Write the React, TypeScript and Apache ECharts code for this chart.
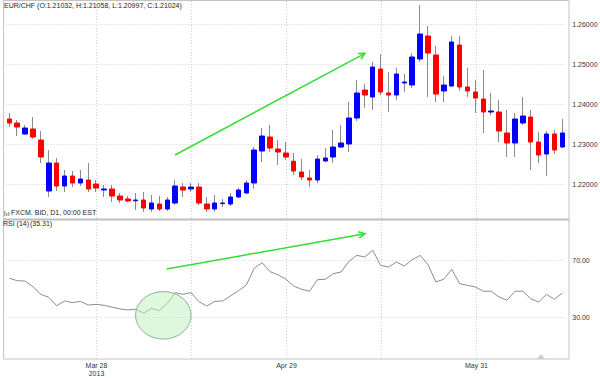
import { useEffect, useRef } from "react";
import * as echarts from "echarts";

// EUR/CHF daily candles
const opens = [
  1.23625, 1.23525, 1.2325, 1.23375, 1.231, 1.21825, 1.22525, 1.2195, 1.222, 1.22025,
  1.221, 1.22, 1.2185, 1.21875, 1.217, 1.21625, 1.2158, 1.216, 1.21375, 1.215,
  1.21375, 1.21525, 1.21925, 1.21875, 1.21925, 1.215, 1.21375, 1.21508, 1.215, 1.21675,
  1.21775, 1.22025, 1.22825, 1.23175, 1.22875, 1.22775, 1.2257, 1.223, 1.2215, 1.221,
  1.22575, 1.22675, 1.22925, 1.23, 1.2365, 1.2435, 1.24175, 1.24875, 1.24275, 1.24225,
  1.24525, 1.24475, 1.25125, 1.257, 1.25225, 1.24325, 1.2445, 1.25475, 1.24425, 1.243,
  1.24125, 1.238, 1.238, 1.23275, 1.23025, 1.23525, 1.23675, 1.2305, 1.2275, 1.2325,
  1.22925,
];
const closes = [
  1.23525, 1.23425, 1.234, 1.23175, 1.22675, 1.22525, 1.2195, 1.222, 1.22025, 1.22125,
  1.21875, 1.219, 1.21875, 1.217, 1.216, 1.21575, 1.216, 1.214, 1.21525, 1.21375,
  1.216, 1.2195, 1.2185, 1.21925, 1.21525, 1.21375, 1.21525, 1.21525, 1.21675, 1.2185,
  1.22025, 1.2285, 1.232, 1.229, 1.228, 1.22675, 1.22325, 1.22175, 1.221, 1.22625,
  1.2265, 1.22925, 1.23025, 1.2365, 1.24275, 1.24225, 1.24925, 1.243, 1.24225, 1.2475,
  1.2455, 1.25175, 1.2575, 1.25275, 1.2425, 1.24475, 1.2555, 1.24425, 1.24325, 1.2415,
  1.238, 1.23825, 1.23325, 1.23025, 1.23625, 1.237, 1.2305, 1.22725, 1.2325, 1.2285,
  1.23275,
];
const lows = [
  1.23425, 1.232, 1.23225, 1.23125, 1.22525, 1.21675, 1.21825, 1.218, 1.21925, 1.2195,
  1.218, 1.218, 1.21675, 1.2155, 1.21525, 1.2155, 1.2135, 1.213, 1.213, 1.21325,
  1.21325, 1.21475, 1.21675, 1.218, 1.21475, 1.213, 1.213, 1.21425, 1.2145, 1.2165,
  1.2175, 1.21875, 1.2255, 1.228, 1.22475, 1.226, 1.22225, 1.221, 1.21925, 1.22025,
  1.2255, 1.22525, 1.229, 1.228, 1.23575, 1.239, 1.2385, 1.24225, 1.238, 1.241,
  1.243, 1.244, 1.2505, 1.24175, 1.2405, 1.2405, 1.24425, 1.24325, 1.24175, 1.23775,
  1.23275, 1.23725, 1.2305, 1.22675, 1.22675, 1.23475, 1.2235, 1.22525, 1.222, 1.2275,
  1.229,
];
const highs = [
  1.23775, 1.236, 1.23475, 1.23675, 1.23325, 1.2285, 1.2265, 1.2235, 1.22325, 1.2235,
  1.22525, 1.221, 1.21975, 1.21975, 1.21775, 1.217, 1.21775, 1.218, 1.21725, 1.217,
  1.21675, 1.221, 1.22025, 1.22025, 1.22025, 1.21675, 1.21725, 1.21625, 1.21775, 1.219,
  1.221, 1.22925, 1.234, 1.23475, 1.231, 1.2305, 1.22775, 1.22625, 1.2235, 1.22725,
  1.229, 1.2335, 1.23475, 1.2405, 1.246, 1.245, 1.2505, 1.2525, 1.248, 1.249,
  1.2475, 1.25275, 1.26475, 1.2595, 1.2545, 1.247, 1.257, 1.257, 1.249, 1.246,
  1.2485, 1.24275, 1.241, 1.2385, 1.23775, 1.24175, 1.2385, 1.233, 1.23325, 1.2335,
  1.23625,
];
// RSI (14)
const rsi = [
  57.5, 55.8, 55.5, 51.5, 46, 44, 38, 41.4, 40.2, 41.1,
  38.5, 39, 38.3, 37, 35.7, 35, 35.5, 32.8, 36.2, 34.5,
  39.7, 47.3, 46.1, 47.3, 40.9, 37.8, 41.1, 41.4, 44.9, 48.7,
  52.7, 64.6, 68.6, 62.2, 60, 57, 52, 49.7, 48.3, 56.5,
  56.8, 60.8, 62, 69.6, 73.8, 72.6, 77.4, 66.7, 65.5, 69.1,
  66.2, 70.7, 73.8, 67.2, 54.9, 56.8, 63.9, 53.7, 52.5, 51.3,
  48.3, 48.3, 44.2, 41.9, 48.3, 48.3, 43, 40.7, 46.1, 42.6,
  47,
];
const dateTickLabels = ["", "Mar 28\n2013", "", "Apr 29", "", "May 31", ""];
const titleText = "EUR/CHF (O:1.21032, H:1.21058, L:1.20997, C:1.21024)";
const sourceText = "FXCM. BID, D1, 00:00 EST";
const rsiTitle = "RSI (14)";
const rsiValueText = "(35.31)";

const FONT = "'Liberation Sans', Arial, sans-serif";
const TXT = "#333";
const GRIDC = "#d2d2d2";
const GREEN = "#33dd33";

function arrow(x1: number, y1: number, x2: number, y2: number) {
  const ang = Math.atan2(y2 - y1, x2 - x1);
  const L = 7;
  const a = 0.45;
  const p1 = [x2 - L * Math.cos(ang - a), y2 - L * Math.sin(ang - a)];
  const p2 = [x2 - L * Math.cos(ang + a), y2 - L * Math.sin(ang + a)];
  return [
    { type: "line", z: 100, shape: { x1, y1, x2, y2 }, style: { stroke: GREEN, lineWidth: 1.5 } },
    { type: "polyline", z: 100, shape: { points: [p1, [x2, y2], p2] }, style: { stroke: GREEN, lineWidth: 1.5, fill: null } },
  ];
}

export default function App() {
  const ref = useRef<HTMLDivElement>(null);
  useEffect(() => {
    document.body.style.margin = "0";
    if (!ref.current) return;
    const chart = echarts.init(ref.current, undefined, { renderer: "svg" });
    const categories = opens.map((_, i) => String(i));
    const full = opens.map((o, i) => [o, closes[i], lows[i], highs[i]]);
    const bodies = opens.map((o, i) => [o, closes[i], Math.min(o, closes[i]), Math.max(o, closes[i])]);
    const splitStyle = { type: [1, 2], color: GRIDC, width: 1 };
    const option: any = {
      animation: false,
      textStyle: { fontFamily: FONT },
      grid: [
        { left: 5.35, width: 560.9, top: -16, height: 240, outerBoundsMode: "none", containLabel: false },
        { left: 5.35, width: 560.9, top: 204.4, height: 168.9, outerBoundsMode: "none", containLabel: false },
        { left: 1.5, width: 570, top: 1, height: 358, outerBoundsMode: "none", containLabel: false },
      ],
      xAxis: [
        { gridIndex: 0, type: "category", data: categories, boundaryGap: true, show: false },
        { gridIndex: 1, type: "category", data: categories, boundaryGap: true, show: false },
        {
          gridIndex: 2, type: "value", min: 0, max: 6, interval: 1,
          axisLine: { show: false }, axisTick: { show: false },
          axisLabel: { formatter: (v: number) => dateTickLabels[Math.round(v)] ?? "", fontSize: 7, color: TXT, margin: 2, lineHeight: 8, fontFamily: FONT },
          splitLine: { show: true, showMinLine: false, showMaxLine: false, lineStyle: splitStyle },
        },
      ],
      yAxis: [
        {
          gridIndex: 0, type: "value", position: "right", min: 1.21, max: 1.27, interval: 0.01,
          axisLine: { show: false }, axisTick: { show: false },
          axisLabel: { showMinLabel: false, showMaxLabel: false, formatter: (v: number) => v.toFixed(5), fontSize: 7, color: TXT, margin: 6, fontFamily: FONT },
          splitLine: { show: true, showMinLine: false, showMaxLine: false, lineStyle: splitStyle },
        },
        {
          gridIndex: 1, type: "value", position: "right", min: -10, max: 110, interval: 40,
          axisLine: { show: false }, axisTick: { show: false },
          axisLabel: { showMinLabel: false, showMaxLabel: false, formatter: (v: number) => v.toFixed(2), fontSize: 7, color: TXT, margin: 6, fontFamily: FONT },
          splitLine: { show: true, showMinLine: false, showMaxLine: false, lineStyle: splitStyle },
        },
        { gridIndex: 2, type: "value", min: 0, max: 1, show: false },
      ],
      series: [
        {
          type: "candlestick", xAxisIndex: 0, yAxisIndex: 0, data: full, barWidth: 1,
          itemStyle: { color: "#8a8a8a", color0: "#8a8a8a", borderColor: "#8a8a8a", borderColor0: "#8a8a8a", borderWidth: 1 },
        },
        {
          type: "candlestick", xAxisIndex: 0, yAxisIndex: 0, data: bodies, barWidth: 5,
          itemStyle: { color: "#0000ff", color0: "#ff0000", borderColor: "#0000ff", borderColor0: "#ff0000", borderWidth: 1 },
        },
        {
          type: "line", xAxisIndex: 1, yAxisIndex: 1, data: rsi, symbol: "none",
          lineStyle: { color: "#8c8c8c", width: 1 },
        },
      ],
      graphic: [
        { type: "rect", z: 50, shape: { x: 3.5, y: 0.5, width: 565.5, height: 358.5 }, style: { fill: null, stroke: "#c4c4c4", lineWidth: 1 } },
        { type: "line", z: 50, shape: { x1: 3.5, y1: 219.5, x2: 569, y2: 219.5 }, style: { stroke: "#bdbdbd", lineWidth: 2 } },
        { type: "text", z: 50, x: 4, y: 2, style: { text: titleText, fontSize: 7, fill: "#222", fontFamily: FONT } },
        { type: "rect", z: 50, shape: { x: 4, y: 211, width: 1.5, height: 5 }, style: { fill: "#aaa" } },
        { type: "rect", z: 50, shape: { x: 6, y: 213, width: 1.5, height: 3 }, style: { fill: "#aaa" } },
        { type: "rect", z: 50, shape: { x: 8, y: 212, width: 1.5, height: 4 }, style: { fill: "#aaa" } },
        { type: "text", z: 50, x: 11, y: 209, style: { text: sourceText, fontSize: 7, fill: "#222", fontFamily: FONT } },
        { type: "text", z: 50, x: 3, y: 220, style: { text: rsiTitle, fontSize: 7, fill: "#222", fontFamily: FONT } },
        { type: "text", z: 50, x: 30, y: 220, style: { text: rsiValueText, fontSize: 7, fill: "#222", fontFamily: FONT } },
        { type: "polygon", z: 50, shape: { points: [[537, 359], [545, 359], [541, 354]] }, style: { fill: "#cfcfcf" } },
        { type: "ellipse", z: 90, shape: { cx: 163.3, cy: 315.3, rx: 27.7, ry: 23.7 }, style: { fill: "rgba(190,242,190,0.5)", stroke: "#8fae8f", lineWidth: 1 } },
        ...arrow(175, 155, 365, 53.3),
        ...arrow(166.7, 269, 365, 233.7),
      ],
    };
    chart.setOption(option);
    return () => chart.dispose();
  }, []);
  return <div ref={ref} style={{ position: "absolute", left: 0, top: 0, width: 600, height: 378 }} />;
}
